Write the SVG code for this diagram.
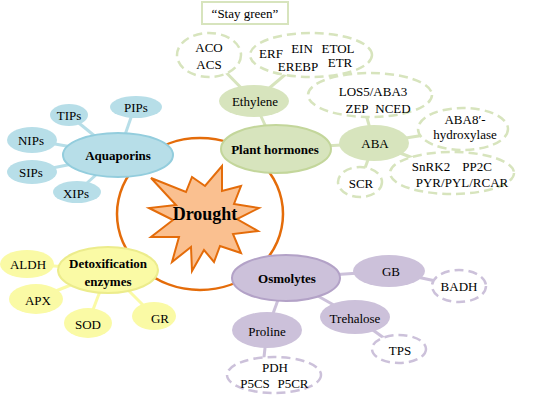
<svg xmlns="http://www.w3.org/2000/svg" width="550" height="397" viewBox="0 0 550 397">
<style>
text{font-family:"Liberation Serif","Times New Roman",serif;font-size:13px;fill:#000;text-anchor:middle;dominant-baseline:central}
.b{font-weight:bold}
.big{font-size:18px;font-weight:bold}
.aq{fill:#b7dee8}
.aqm{fill:#b7dee8;stroke:#93cddd;stroke-width:2}
.gr{fill:#d7e4bd}
.grm{fill:#d7e4bd;stroke:#c3d69b;stroke-width:2}
.grd{fill:#fff;stroke:#d7e4bd;stroke-width:2.5;stroke-dasharray:9 5}
.ye{fill:#fafaa5}
.yem{fill:#fafaa5;stroke:#ecec8c;stroke-width:2}
.pu{fill:#ccc1da}
.pum{fill:#ccc1da;stroke:#b3a2c7;stroke-width:2}
.pud{fill:#fff;stroke:#ccc1da;stroke-width:2.5;stroke-dasharray:9 5}
.la{stroke:#b7dee8;stroke-width:3}
.lg{stroke:#d7e4bd;stroke-width:3}
.ly{stroke:#fafaa5;stroke-width:3}
.lp{stroke:#ccc1da;stroke-width:3}
</style>
<g id="connectors" fill="none">
<ellipse cx="200" cy="214" rx="83" ry="76" stroke="#e46c0a" stroke-width="2.5"/>
<line class="la" x1="118" y1="155" x2="69" y2="115"/>
<line class="la" x1="118" y1="155" x2="135" y2="106"/>
<line class="la" x1="118" y1="155" x2="32" y2="140"/>
<line class="la" x1="118" y1="155" x2="32" y2="172"/>
<line class="la" x1="118" y1="155" x2="77" y2="192"/>
<line class="lg" x1="254" y1="101" x2="209" y2="55"/>
<line class="lg" x1="254" y1="101" x2="300" y2="62"/>
<line class="lg" x1="254" y1="101" x2="276" y2="149"/>
<line class="lg" x1="276" y1="149" x2="374" y2="143"/>
<line class="lg" x1="374" y1="143" x2="362" y2="100"/>
<line class="lg" x1="374" y1="143" x2="463" y2="129"/>
<line class="lg" x1="374" y1="143" x2="452" y2="173"/>
<line class="lg" x1="374" y1="143" x2="360" y2="182"/>
<line class="ly" x1="108" y1="270" x2="27" y2="264"/>
<line class="ly" x1="108" y1="270" x2="36" y2="299"/>
<line class="ly" x1="108" y1="270" x2="88" y2="323"/>
<line class="ly" x1="108" y1="270" x2="154" y2="316"/>
<line class="lp" x1="286" y1="278" x2="389" y2="271"/>
<line class="lp" x1="286" y1="278" x2="355" y2="317"/>
<line class="lp" x1="286" y1="278" x2="267" y2="330"/>
<line class="lp" x1="389" y1="271" x2="459" y2="286"/>
<line class="lp" x1="355" y1="317" x2="399" y2="349"/>
<line class="lp" x1="267" y1="330" x2="262" y2="375"/>
</g>
<g id="drought">
<polygon points="222,166 222,191 241,186 234,204 259,208 237,219 258,231 233,234 241,253 220,246 214,262 204,250 192,271 191,247 172,262 179,237 151,237 173,220 149,208 176,205 151,178 186,192 192,177 205,186" fill="#fac090" stroke="#e46c0a" stroke-width="2" stroke-linejoin="miter"/>
<text class="big" x="205" y="214">Drought</text>
</g>
<g id="aquaporins">
<ellipse class="aqm" cx="118" cy="155" rx="55" ry="22"/>
<text class="b" x="118" y="155">Aquaporins</text>
</g>
<g id="tips"><ellipse class="aq" cx="69" cy="115" rx="19" ry="11"/><text x="69" y="115">TIPs</text></g>
<g id="pips"><ellipse class="aq" cx="136" cy="107" rx="26" ry="11"/><text x="136" y="107">PIPs</text></g>
<g id="nips"><ellipse class="aq" cx="32" cy="140" rx="25" ry="13"/><text x="31" y="140">NIPs</text></g>
<g id="sips"><ellipse class="aq" cx="32" cy="172" rx="25" ry="12"/><text x="31" y="172">SIPs</text></g>
<g id="xips"><ellipse class="aq" cx="77" cy="192" rx="24" ry="11"/><text x="76" y="193">XIPs</text></g>
<g id="plant-hormones">
<ellipse class="grm" cx="276" cy="149" rx="55" ry="24"/>
<text class="b" x="275" y="149">Plant hormones</text>
</g>
<g id="stay-green">
<rect x="202" y="2" width="86" height="22" fill="none" stroke="#d7e4bd" stroke-width="2"/>
<text x="245" y="13">“Stay green”</text>
</g>
<g id="ethylene"><ellipse class="gr" cx="254" cy="101" rx="35" ry="16"/><text x="255" y="101">Ethylene</text></g>
<g id="aco-acs">
<ellipse class="grd" cx="209" cy="55" rx="32" ry="22"/>
<text x="209" y="47">ACO</text><text x="209" y="64">ACS</text>
</g>
<g id="erf">
<ellipse class="grd" cx="311" cy="55" rx="61" ry="22"/>
<text x="271" y="53">ERF</text><text x="302" y="48">EIN</text><text x="338" y="48">ETOL</text>
<text x="298" y="66">EREBP</text><text x="340" y="62">ETR</text>
</g>
<g id="los5">
<ellipse class="grd" cx="370" cy="95" rx="62" ry="22"/>
<text x="373" y="91">LOS5/ABA3</text><text x="357" y="108">ZEP</text><text x="393" y="108">NCED</text>
</g>
<g id="aba"><ellipse class="gr" cx="374" cy="143" rx="35" ry="18"/><text x="375" y="143">ABA</text></g>
<g id="aba8">
<ellipse class="grd" cx="463" cy="129" rx="45" ry="21"/>
<text x="465" y="119">ABA8′-</text><text x="465" y="134">hydroxylase</text>
</g>
<g id="snrk2">
<ellipse class="grd" cx="452" cy="173" rx="62" ry="21"/>
<text x="431" y="166">SnRK2</text><text x="477" y="166">PP2C</text><text x="462" y="182">PYR/PYL/RCAR</text>
</g>
<g id="scr"><ellipse class="grd" cx="360" cy="182" rx="22" ry="15"/><text x="361" y="183">SCR</text></g>
<g id="detox">
<ellipse class="yem" cx="108" cy="270" rx="50" ry="23"/>
<text class="b" x="108" y="263">Detoxification</text><text class="b" x="108" y="281">enzymes</text>
</g>
<g id="aldh"><ellipse class="ye" cx="27" cy="264" rx="27" ry="14"/><text x="28" y="264">ALDH</text></g>
<g id="apx"><ellipse class="ye" cx="36" cy="299" rx="27" ry="15"/><text x="38" y="300">APX</text></g>
<g id="sod"><ellipse class="ye" cx="88" cy="323" rx="24" ry="15"/><text x="88" y="324">SOD</text></g>
<g id="gr"><ellipse class="ye" cx="154" cy="316" rx="22" ry="14"/><text x="160" y="318">GR</text></g>
<g id="osmolytes">
<ellipse class="pum" cx="286" cy="278" rx="54" ry="23"/>
<text class="b" x="287" y="278">Osmolytes</text>
</g>
<g id="gb"><ellipse class="pu" cx="389" cy="271" rx="36" ry="16"/><text x="391" y="271">GB</text></g>
<g id="badh"><ellipse class="pud" cx="459" cy="286" rx="27" ry="16"/><text x="459" y="286">BADH</text></g>
<g id="trehalose"><ellipse class="pu" cx="355" cy="317" rx="35" ry="17"/><text x="355" y="318">Trehalose</text></g>
<g id="tps"><ellipse class="pud" cx="399" cy="349" rx="27" ry="14"/><text x="400" y="350">TPS</text></g>
<g id="proline"><ellipse class="pu" cx="267" cy="330" rx="35" ry="18"/><text x="267" y="331">Proline</text></g>
<g id="pdh">
<ellipse class="pud" cx="274" cy="375" rx="47" ry="18"/>
<text x="275" y="367">PDH</text><text x="255" y="383">P5CS</text><text x="293" y="383">P5CR</text>
</g>
</svg>
